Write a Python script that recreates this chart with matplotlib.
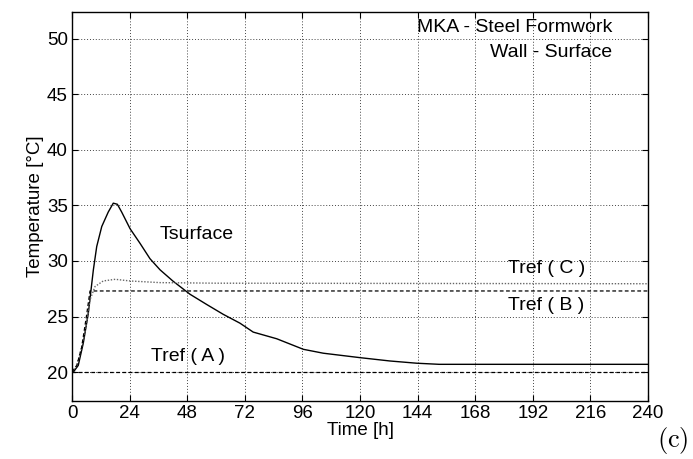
# Wall surface temperature, steel formwork

import numpy as np
import matplotlib.pyplot as plt

plt.rcParams['font.family'] = ['Liberation Sans', 'DejaVu Sans']
plt.rcParams['mathtext.fontset'] = 'cm'

# Tsurface (solid)
t_surf = [0, 0.55, 2.6, 4.7, 6.8, 8.9, 10.3, 12.4, 15.1, 17.2, 18.9, 20.7, 24.2,
          28.3, 32.5, 36.7, 42, 49.2, 56, 63, 70, 75.5, 85.3, 96.4, 104.7,
          120, 132.5, 143.6, 153, 240]
T_surf = [20, 20.0, 20.6, 22.6, 25.3, 29.2, 31.3, 33.1, 34.4, 35.2, 35.1, 34.4, 32.9,
          31.6, 30.2, 29.2, 28.2, 27.0, 26.1, 25.2, 24.4, 23.6, 23.0, 22.05, 21.7,
          21.3, 21.0, 20.8, 20.7, 20.7]

# Tref (C) (dotted)
t_refC = [0, 2, 4, 6.1, 7.5, 9.6, 13, 18, 24.2, 36.7, 60, 240]
T_refC = [20, 20.6, 22.2, 24.4, 26.5, 27.7, 28.2, 28.35, 28.2, 28.05, 28.0, 27.95]

# Tref (B) (dashed)
t_refB = [0, 2, 4, 6, 7.5, 240]
T_refB = [20, 20.6, 22.2, 25.0, 27.3, 27.3]

# Tref (A)
t_refA = [0, 240]
T_refA = [20, 20]

xticks = [0, 24, 48, 72, 96, 120, 144, 168, 192, 216, 240]
yticks = [20, 25, 30, 35, 40, 45, 50]

fig = plt.figure(figsize=(6.93, 4.59), dpi=100)
ax = fig.add_axes([72/693, 1-401/459, 576/693, 389/459])

ax.plot(t_surf, T_surf, color='black', lw=1.0)
ax.plot(t_refC, T_refC, color='#666666', lw=1.0, linestyle=(0, (1, 1.2)))
ax.plot(t_refB, T_refB, color='black', lw=0.9, linestyle=(0, (3, 2)))
ax.plot(t_refA, T_refA, color='black', lw=0.9, linestyle=(0, (3, 2)))

ax.set_xlim(0, 240)
ax.set_ylim(17.4, 52.4)
ax.set_xticks(xticks)
ax.set_yticks(yticks)
ax.grid(True, color='#444444', linestyle=(0, (1, 2)), lw=0.7)
ax.tick_params(direction='in', length=4, top=True, right=True, labelsize=13.5, pad=3)
for s in ax.spines.values():
    s.set_linewidth(1.0)

ax.set_xlabel('Time [h]', fontsize=13.5, labelpad=0)
ax.set_ylabel('Temperature [\u00b0C]', fontsize=13.5, labelpad=2)

fs = 14
ax.text(36.7, 32.4, 'Tsurface', fontsize=fs, va='center', ha='left')
ax.text(33, 21.4, 'Tref ( A )', fontsize=fs, va='center', ha='left')
ax.text(181.7, 29.3, 'Tref ( C )', fontsize=fs, va='center', ha='left')
ax.text(181.7, 26.0, 'Tref ( B )', fontsize=fs, va='center', ha='left')
ax.text(225, 51.0, 'MKA - Steel Formwork', fontsize=fs, va='center', ha='right')
ax.text(225, 48.8, 'Wall - Surface', fontsize=fs, va='center', ha='right')

fig.text(673/693, 1-440/459, r'$\mathrm{(c)}$', fontsize=19, ha='center', va='center')

fig.savefig('out.png', dpi=100)
